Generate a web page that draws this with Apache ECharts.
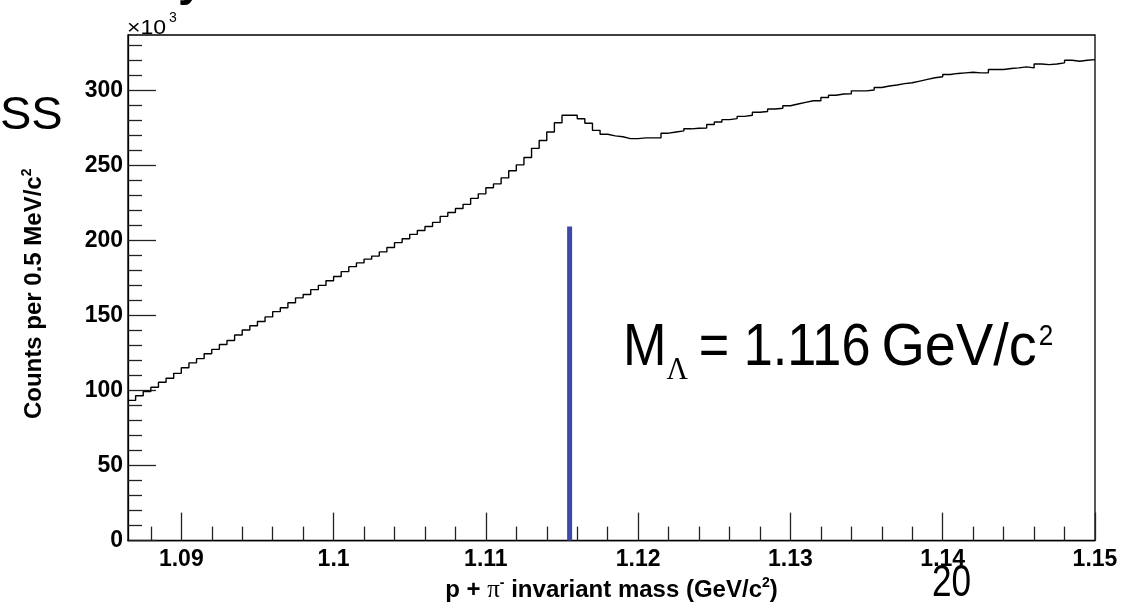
<!DOCTYPE html>
<html>
<head>
<meta charset="utf-8">
<script src="https://cdn.jsdelivr.net/npm/echarts@6/dist/echarts.min.js"></script>
<style>
html,body{margin:0;padding:0;background:#fff;}
#chart{width:1128px;height:608px;}
</style>
</head>
<body>
<div id="chart"></div>
<script>
// Histogram binning (GeV/c^2)
const binStart = 1.0865;
const binWidth = 0.0005;
// Counts per 0.5 MeV/c^2, in units of 10^3, one per bin
const counts = [
  93.4, 96.5, 99.3, 102.2, 105.5, 108.1, 111.4, 115.1, 118.4, 121.2,
  124.5, 127.4, 130.6, 133.3, 137.0, 140.3, 143.1, 146.0, 149.0, 152.5,
  155.1, 158.4, 161.7, 163.9, 167.2, 170.0, 173.1, 175.9, 179.2, 182.5,
  185.0, 187.5, 189.5, 192.3, 195.2, 198.5, 201.1, 204.0, 206.6, 209.2,
  212.0, 216.0, 218.6, 221.2, 224.0, 228.0, 231.0, 235.0, 237.6, 241.6,
  246.4, 250.3, 255.2, 261.3, 266.5, 272.2, 278.3, 283.3, 283.3, 281.0,
  278.0, 273.3, 270.7, 269.6, 269.0, 267.8, 267.8, 268.3, 268.3, 268.4,
  271.4, 272.2, 272.9, 274.3, 274.7, 274.8, 277.2, 278.8, 280.4, 281.1,
  282.6, 283.3, 285.3, 285.8, 287.5, 288.0, 289.7, 290.8, 291.9, 293.0,
  293.0, 295.2, 296.7, 297.5, 297.7, 299.6, 299.6, 300.2, 301.8, 302.8,
  303.5, 304.4, 305.0, 306.1, 307.2, 308.3, 309.0, 310.5, 311.2, 311.6,
  312.0, 311.6, 311.6, 313.8, 313.8, 314.5, 314.9, 315.6, 314.9, 317.5,
  317.1, 317.5, 318.2, 320.0, 319.3, 320.0, 320.4
];
// Lambda mass marker line
const markerMass = 1.1155;
const markerTop = 209.2;

// Axis ranges and ticks
const xMin = 1.0865, xMax = 1.15;
const yMin = 0, yMax = 336.8;
const xMajorTicks = [1.09, 1.10, 1.11, 1.12, 1.13, 1.14, 1.15];
const xTickLabels = ['1.09', '1.1', '1.11', '1.12', '1.13', '1.14', '1.15'];
const xMinorTicks = [1.088, 1.092, 1.094, 1.096, 1.098, 1.102, 1.104, 1.106, 1.108,
  1.112, 1.114, 1.116, 1.118, 1.122, 1.124, 1.126, 1.128, 1.132, 1.134, 1.136, 1.138,
  1.142, 1.144, 1.146, 1.148];
const yMajorTicks = [0, 50, 100, 150, 200, 250, 300];
const yTickLabels = ['0', '50', '100', '150', '200', '250', '300'];
const yMinorTicks = [10, 20, 30, 40, 60, 70, 80, 90, 110, 120, 130, 140, 160, 170, 180, 190,
  210, 220, 230, 240, 260, 270, 280, 290, 310, 320, 330];

const histData = counts.map((v, i) => [binStart + i * binWidth, v]);
histData.push([binStart + counts.length * binWidth, counts[counts.length - 1]]);

const F = 'Liberation Sans, Arial, Helvetica, sans-serif';
const FS = 'Liberation Serif, Times New Roman, serif';

const chart = echarts.init(document.getElementById('chart'), null, {renderer: 'canvas'});

const option = {
  animation: false,
  backgroundColor: '#ffffff',
  grid: {left: 128, right: 33, top: 35, bottom: 60, show: true, borderColor: '#000', borderWidth: 1.3, backgroundColor: 'transparent'},
  xAxis: [
    {
      type: 'value', min: xMin, max: xMax, position: 'bottom',
      axisLine: {show: true, onZero: false, lineStyle: {color: '#000', width: 1.3}},
      axisTick: {show: true, inside: true, length: 28, customValues: xMajorTicks, lineStyle: {color: '#222', width: 1.3}},
      axisLabel: {show: true, customValues: xMajorTicks, margin: 8,
        formatter: v => { const k = xMajorTicks.findIndex(t => Math.abs(t - v) < 1e-9); return k >= 0 ? xTickLabels[k] : ''; },
        fontFamily: F, fontSize: 23, fontWeight: 'bold', color: '#000'},
      splitLine: {show: false},
      name: '{b|p + }{pi|π}{s|-}{b| invariant mass (GeV/c}{s|2}{b|)}',
      nameLocation: 'middle', nameGap: 30,
      nameTextStyle: {
        rich: {
          b: {fontFamily: F, fontSize: 24, fontWeight: 'bold', color: '#000', lineHeight: 28},
          pi: {fontFamily: FS, fontSize: 25, color: '#000', lineHeight: 28},
          s: {fontFamily: F, fontSize: 14, fontWeight: 'bold', color: '#000', lineHeight: 14, verticalAlign: 'top'}
        }
      }
    },
    {
      type: 'value', min: xMin, max: xMax, position: 'bottom',
      axisLine: {show: false},
      axisTick: {show: true, inside: true, length: 14, customValues: xMinorTicks, lineStyle: {color: '#222', width: 1.3}},
      axisLabel: {show: false}, splitLine: {show: false}
    }
  ],
  yAxis: [
    {
      type: 'value', min: yMin, max: yMax, position: 'left',
      axisLine: {show: true, onZero: false, lineStyle: {color: '#000', width: 1.3}},
      axisTick: {show: true, inside: true, length: 28, customValues: yMajorTicks, lineStyle: {color: '#222', width: 1.3}},
      axisLabel: {show: true, customValues: yMajorTicks, margin: 5,
        formatter: v => { const k = yMajorTicks.indexOf(v); return k >= 0 ? yTickLabels[k] : ''; },
        fontFamily: F, fontSize: 23, fontWeight: 'bold', color: '#000'},
      splitLine: {show: false},
      name: '{b|Counts per 0.5 MeV/c}{s|2}',
      nameLocation: 'middle', nameRotate: 90, nameGap: 80,
      nameTextStyle: {
        padding: [0, 12, 0, 0],
        rich: {
          b: {fontFamily: F, fontSize: 24, fontWeight: 'bold', color: '#000', lineHeight: 28},
          s: {fontFamily: F, fontSize: 14, fontWeight: 'bold', color: '#000', lineHeight: 14, verticalAlign: 'top'}
        }
      }
    },
    {
      type: 'value', min: yMin, max: yMax, position: 'left',
      axisLine: {show: false},
      axisTick: {show: true, inside: true, length: 14, customValues: yMinorTicks, lineStyle: {color: '#222', width: 1.3}},
      axisLabel: {show: false}, splitLine: {show: false}
    }
  ],
  series: [
    {
      type: 'line', name: 'hist', xAxisIndex: 0, yAxisIndex: 0,
      data: histData, step: 'end', showSymbol: false, symbol: 'none',
      lineStyle: {color: '#000', width: 1.4}, z: 3
    },
    {
      type: 'line', name: 'marker', xAxisIndex: 0, yAxisIndex: 0,
      data: [[markerMass, 0], [markerMass, markerTop]], showSymbol: false, symbol: 'none',
      lineStyle: {color: '#3F48A8', width: 5, cap: 'butt'}, z: 4
    }
  ],
  graphic: [
    {type: 'text', x: 127, y: 18, scaleX: 1.1, style: {text: '×10', font: '21px ' + F, fill: '#000', verticalAlign: 'top'}},
    {type: 'text', x: 169, y: 11, style: {text: '3', font: '14px ' + F, fill: '#000', verticalAlign: 'top'}},
    {type: 'text', x: 0, y: 93, style: {text: 'SS', font: '47px ' + F, fill: '#000', verticalAlign: 'top'}},
    {type: 'text', x: 178, y: -41, style: {text: 'y', font: 'bold 46px ' + F, fill: '#000', verticalAlign: 'top'}},
    {
      type: 'group', x: 623, y: 318.5, scaleX: 0.87,
      children: [
        {type: 'text', x: 0, y: 0, style: {text: 'M', font: '60px ' + F, fill: '#000', verticalAlign: 'top'}},
        {type: 'text', x: 50, y: 37, scaleX: 1.1, style: {text: 'Λ', font: '31px ' + FS, fill: '#000', verticalAlign: 'top'}},
        {type: 'text', x: 87, y: 0, style: {text: '= 1.116', font: '60px ' + F, fill: '#000', verticalAlign: 'top'}},
        {type: 'text', x: 297, y: 0, scaleX: 1.07, style: {text: 'GeV/c', font: '60px ' + F, fill: '#000', verticalAlign: 'top'}},
        {type: 'text', x: 478, y: 3, style: {text: '2', font: '30px ' + F, fill: '#000', verticalAlign: 'top'}}
      ]
    },
    {type: 'text', x: 932, y: 562, scaleX: 0.8, style: {text: '20', font: '44px ' + F, fill: '#000', verticalAlign: 'top'}}
  ]
};
chart.setOption(option);
</script>
</body>
</html>
